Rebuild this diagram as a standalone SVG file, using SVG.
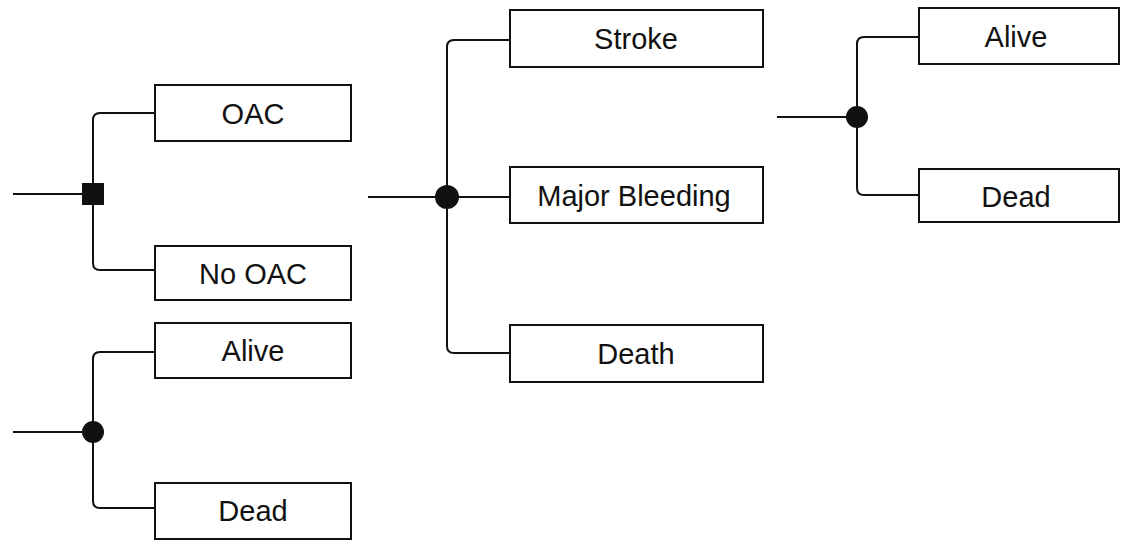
<svg xmlns="http://www.w3.org/2000/svg" width="1127" height="540" viewBox="0 0 1127 540">
<style>
.box{fill:#fff;stroke:#111;stroke-width:2}
.lbl{font-family:"Liberation Sans",Arial,sans-serif;font-size:29px;fill:#111;text-anchor:middle}
.ln{fill:none;stroke:#111;stroke-width:2}
.nd{fill:#111}
</style>
<rect width="1127" height="540" fill="#fff"/>
<g id="connectors">
<path class="ln" d="M13 194H93"/>
<path class="ln" d="M155 113H100Q93 113 93 120V263Q93 270 100 270H155"/>
<path class="ln" d="M13 432H93"/>
<path class="ln" d="M155 352H100Q93 352 93 359V501Q93 508 100 508H155"/>
<path class="ln" d="M368 197H510"/>
<path class="ln" d="M510 40H454Q447 40 447 47V346Q447 353 454 353H510"/>
<path class="ln" d="M777 117H857"/>
<path class="ln" d="M919 37H864Q857 37 857 44V188Q857 195 864 195H919"/>
</g>
<g id="decision-oac"><rect class="nd" x="82" y="183" width="22" height="22"/></g>
<g id="chance-left"><circle class="nd" cx="93" cy="432" r="11"/></g>
<g id="chance-mid"><circle class="nd" cx="447" cy="197" r="12"/></g>
<g id="chance-right"><circle class="nd" cx="857" cy="117" r="11"/></g>
<g id="n-oac"><rect class="box" x="155" y="85" width="196" height="56"/><text class="lbl" x="253" y="124">OAC</text></g>
<g id="n-nooac"><rect class="box" x="155" y="246" width="196" height="54"/><text class="lbl" x="253" y="284">No OAC</text></g>
<g id="n-alive1"><rect class="box" x="155" y="323" width="196" height="55"/><text class="lbl" x="253" y="361">Alive</text></g>
<g id="n-dead1"><rect class="box" x="155" y="483" width="196" height="56"/><text class="lbl" x="253" y="521">Dead</text></g>
<g id="n-stroke"><rect class="box" x="510" y="10" width="253" height="57"/><text class="lbl" x="636" y="49">Stroke</text></g>
<g id="n-bleed"><rect class="box" x="510" y="167" width="253" height="56"/><text class="lbl" x="634" y="206">Major Bleeding</text></g>
<g id="n-death"><rect class="box" x="510" y="325" width="253" height="57"/><text class="lbl" x="636" y="364">Death</text></g>
<g id="n-alive2"><rect class="box" x="919" y="8" width="200" height="56"/><text class="lbl" x="1016" y="47">Alive</text></g>
<g id="n-dead2"><rect class="box" x="919" y="169" width="200" height="53"/><text class="lbl" x="1016" y="207">Dead</text></g>
</svg>
